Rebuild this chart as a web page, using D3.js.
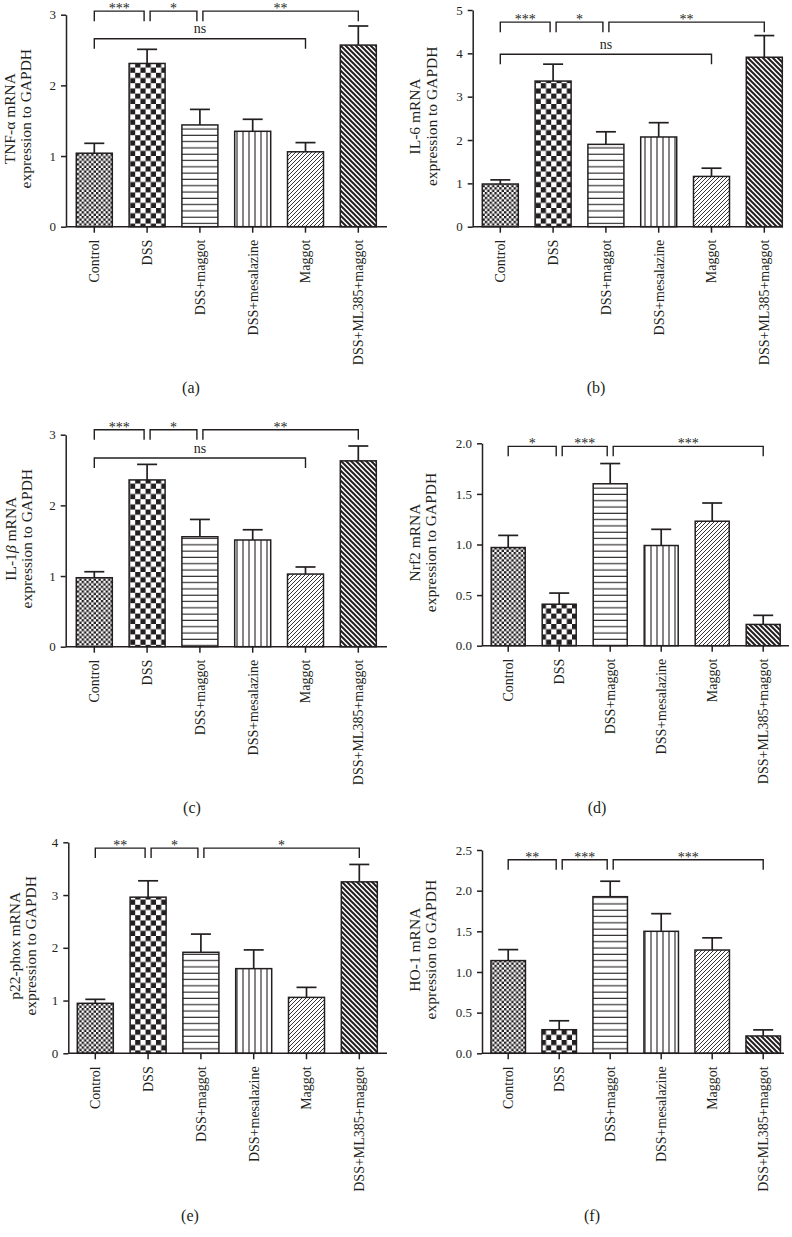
<!DOCTYPE html>
<html>
<head>
<meta charset="utf-8">
<script src="https://cdn.jsdelivr.net/npm/d3@7/dist/d3.min.js"></script>
<style>
  html, body { margin: 0; padding: 0; background: #fff; }
  svg { display: block; }
  text { font-family: "Liberation Serif", "Times New Roman", serif; fill: #231f20; }
</style>
</head>
<body>
<svg id="chart" width="792" height="1237"></svg>
<script>
// ---------------- DATA ----------------
const categories = ["Control", "DSS", "DSS+maggot", "DSS+mesalazine", "Maggot", "DSS+ML385+maggot"];

const tnfMean  = [1.04, 2.31, 1.44, 1.35, 1.06, 2.57];
const tnfErr   = [0.14, 0.20, 0.22, 0.17, 0.13, 0.27];
const il6Mean  = [0.985, 3.36, 1.90, 2.07, 1.16, 3.91];
const il6Err   = [0.095, 0.39, 0.29, 0.33, 0.19, 0.50];
const il1bMean = [0.976, 2.36, 1.556, 1.51, 1.028, 2.63];
const il1bErr  = [0.085, 0.22, 0.245, 0.145, 0.10, 0.21];
const nrf2Mean = [0.97, 0.41, 1.60, 0.99, 1.23, 0.21];
const nrf2Err  = [0.12, 0.11, 0.20, 0.16, 0.18, 0.09];
const p22Mean  = [0.948, 2.96, 1.915, 1.605, 1.06, 3.25];
const p22Err   = [0.075, 0.31, 0.345, 0.355, 0.19, 0.33];
const ho1Mean  = [1.14, 0.29, 1.926, 1.50, 1.27, 0.213];
const ho1Err   = [0.135, 0.11, 0.19, 0.217, 0.15, 0.075];

const ticksTNF  = [0, 1, 2, 3];
const ticksIL6  = [0, 1, 2, 3, 4, 5];
const ticksIL1b = [0, 1, 2, 3];
const ticksNrf2 = [0, 0.5, 1.0, 1.5, 2.0];
const ticksP22  = [0, 1, 2, 3, 4];
const ticksHO1  = [0, 0.5, 1.0, 1.5, 2.0, 2.5];

// significance brackets: [from index, to index, label, level (data units)]
const sigTNF  = [[0, 1, "***", 3.05], [1, 2, "*", 3.05], [2, 5, "**", 3.05], [0, 4, "ns", 2.66]];
const sigIL6  = [[0, 1, "***", 4.72], [1, 2, "*", 4.72], [2, 5, "**", 4.72], [0, 4, "ns", 3.98]];
const sigIL1b = [[0, 1, "***", 3.07], [1, 2, "*", 3.07], [2, 5, "**", 3.07], [0, 4, "ns", 2.67]];
const sigNrf2 = [[0, 1, "*", 1.97], [1, 2, "***", 1.97], [2, 5, "***", 1.97]];
const sigP22  = [[0, 1, "**", 3.89], [1, 2, "*", 3.89], [2, 5, "*", 3.89]];
const sigHO1  = [[0, 1, "**", 2.38], [1, 2, "***", 2.38], [2, 5, "***", 2.38]];

const yLabelsLine1 = [["TNF-α mRNA"], ["IL-6 mRNA"], ["IL-1", "β", " mRNA"], ["Nrf2 mRNA"], ["p22-phox mRNA"], ["HO-1 mRNA"]];
const yLabelLine2 = "expression to GAPDH";
const panelLetters = ["(a)", "(b)", "(c)", "(d)", "(e)", "(f)"];

// ---------------- DRAWING ----------------
const INK = "#231f20";
const svg = d3.select("#chart");
const defs = svg.append("defs");

const FS_X = 14, FS_Y = 15.5, FS_TICK = 13, FS_SIG = 14, FS_LETTER = 16;

// patterns
function pat(id, w, h) {
  return defs.append("pattern").attr("id", id).attr("patternUnits", "userSpaceOnUse")
    .attr("width", w).attr("height", h);
}
{ // fine checker
  const p = pat("p0", 4.8, 4.8);
  p.append("rect").attr("width", 4.8).attr("height", 4.8).attr("fill", "#fff");
  p.append("rect").attr("width", 2.4).attr("height", 2.4).attr("fill", INK);
  p.append("rect").attr("x", 2.4).attr("y", 2.4).attr("width", 2.4).attr("height", 2.4).attr("fill", INK);
}
{ // coarse checker
  const p = pat("p1", 10.4, 10.4);
  p.append("rect").attr("width", 10.4).attr("height", 10.4).attr("fill", "#fff");
  p.append("rect").attr("width", 5.2).attr("height", 5.2).attr("fill", INK);
  p.append("rect").attr("x", 5.2).attr("y", 5.2).attr("width", 5.2).attr("height", 5.2).attr("fill", INK);
}
{ // horizontal lines
  const p = pat("p2", 10, 6.3);
  p.append("rect").attr("width", 10).attr("height", 6.3).attr("fill", "#fff");
  p.append("line").attr("x1", 0).attr("x2", 10).attr("y1", 3).attr("y2", 3).attr("stroke", INK).attr("stroke-width", 1.1);
}
{ // vertical lines
  const p = pat("p3", 6, 10);
  p.append("rect").attr("width", 6).attr("height", 10).attr("fill", "#fff");
  p.append("line").attr("x1", 3).attr("x2", 3).attr("y1", 0).attr("y2", 10).attr("stroke", INK).attr("stroke-width", 1.1);
}
{ // thin "/" hatch
  const p = pat("p4", 4, 4);
  p.append("rect").attr("width", 4).attr("height", 4).attr("fill", "#fff");
  p.append("path").attr("d", "M-1,1 L1,-1 M0,4 L4,0 M3,5 L5,3").attr("stroke", INK).attr("stroke-width", 0.9);
}
{ // thick "\" hatch
  const p = pat("p5", 5, 5);
  p.append("rect").attr("width", 5).attr("height", 5).attr("fill", "#fff");
  p.append("path").attr("d", "M-1,4 L1,6 M0,0 L5,5 M4,-1 L6,1").attr("stroke", INK).attr("stroke-width", 2);
}

const panels = [
  { mean: tnfMean,  err: tnfErr,  ticks: ticksTNF,  fmt: d3.format("d"),   sig: sigTNF,
    L: { ax: 66,    yTop: 14.7,  y0: 226.7,  xEnd: 387, c0: 94.3,  step: 52.8, bw: 36, l1: -56, l2: -40.5, lx: 191, ly: 387 } },
  { mean: il6Mean,  err: il6Err,  ticks: ticksIL6,  fmt: d3.format("d"),   sig: sigIL6,
    L: { ax: 472.7, yTop: 10,    y0: 226.7,  xEnd: 783, c0: 500.3, step: 52.8, bw: 36, l1: -58, l2: -41, lx: 596, ly: 387 } },
  { mean: il1bMean, err: il1bErr, ticks: ticksIL1b, fmt: d3.format("d"),   sig: sigIL1b,
    L: { ax: 65.7,  yTop: 434.7, y0: 646.7,  xEnd: 387, c0: 94.3,  step: 52.8, bw: 36, l1: -55, l2: -39.5, lx: 192, ly: 807 } },
  { mean: nrf2Mean, err: nrf2Err, ticks: ticksNrf2, fmt: d3.format(".1f"), sig: sigNrf2,
    L: { ax: 482,   yTop: 443.3, y0: 645.7,  xEnd: 789, c0: 508.2, step: 51.0, bw: 34, l1: -67, l2: -51, lx: 597, ly: 807 } },
  { mean: p22Mean,  err: p22Err,  ticks: ticksP22,  fmt: d3.format("d"),   sig: sigP22,
    L: { ax: 68.3,  yTop: 842.3, y0: 1053.3, xEnd: 387, c0: 95.3,  step: 52.8, bw: 36, l1: -54, l2: -38, lx: 190, ly: 1215 } },
  { mean: ho1Mean,  err: ho1Err,  ticks: ticksHO1,  fmt: d3.format(".1f"), sig: sigHO1,
    L: { ax: 482,   yTop: 850,   y0: 1053.3, xEnd: 784, c0: 508.2, step: 51.0, bw: 34.5, l1: -67, l2: -51, lx: 592, ly: 1215 } }
];

panels.forEach((P, k) => {
  const L = P.L;
  const g = svg.append("g");
  const ymax = d3.max(P.ticks);
  const y = d3.scaleLinear().domain([0, ymax]).range([L.y0, L.yTop]);
  const pad = 1 - L.bw / L.step;
  const x = d3.scaleBand().domain(categories)
    .range([L.c0 - L.step / 2, L.c0 + 5.5 * L.step])
    .paddingInner(pad).paddingOuter(pad / 2);
  const cx = c => x(c) + x.bandwidth() / 2;

  // bars
  g.selectAll("rect.bar").data(categories).join("rect").attr("class", "bar")
    .attr("x", c => x(c)).attr("width", x.bandwidth())
    .attr("y", (c, i) => y(P.mean[i])).attr("height", (c, i) => L.y0 - y(P.mean[i]))
    .attr("fill", (c, i) => `url(#p${i})`).attr("stroke", INK).attr("stroke-width", 1.5);

  // error bars (upper)
  const eb = g.selectAll("g.eb").data(categories).join("g").attr("class", "eb");
  eb.append("line").attr("x1", cx).attr("x2", cx)
    .attr("y1", (c, i) => y(P.mean[i])).attr("y2", (c, i) => y(P.mean[i] + P.err[i]))
    .attr("stroke", INK).attr("stroke-width", 1.7);
  eb.append("line").attr("x1", c => cx(c) - 10).attr("x2", c => cx(c) + 10)
    .attr("y1", (c, i) => y(P.mean[i] + P.err[i])).attr("y2", (c, i) => y(P.mean[i] + P.err[i]))
    .attr("stroke", INK).attr("stroke-width", 1.7);

  // y axis
  const ya = g.append("g").attr("transform", `translate(${L.ax},0)`)
    .call(d3.axisLeft(y).tickValues(P.ticks).tickFormat(P.fmt).tickSize(5).tickSizeOuter(0).tickPadding(5));
  ya.selectAll("path, line").attr("stroke", INK).attr("stroke-width", 1.5);
  ya.selectAll("text").attr("font-size", FS_TICK).attr("fill", INK);

  // x axis
  g.append("line").attr("x1", L.ax).attr("x2", L.xEnd).attr("y1", L.y0).attr("y2", L.y0)
    .attr("stroke", INK).attr("stroke-width", 1.5);
  const xa = g.append("g").attr("transform", `translate(0,${L.y0})`)
    .call(d3.axisBottom(x).tickSize(6).tickSizeOuter(0).tickFormat(""));
  xa.select("path.domain").remove();
  xa.selectAll("text").remove();
  xa.selectAll("line").attr("stroke", INK).attr("stroke-width", 1.5);
  g.selectAll("text.xl").data(categories).join("text").attr("class", "xl")
    .attr("transform", c => `translate(${cx(c)},${L.y0 + 13}) rotate(-90)`)
    .attr("text-anchor", "end").attr("dy", "0.35em").attr("font-size", FS_X)
    .text(c => c);

  // significance brackets
  P.sig.forEach(([i, j, lab, lvl]) => {
    const yy = y(lvl);
    const sharedStart = P.sig.some(s => s[1] === i && s[3] === lvl);
    const sharedEnd = P.sig.some(s => s[0] === j && s[3] === lvl);
    const x1 = cx(categories[i]) + (sharedStart ? 3 : 0);
    const x2 = cx(categories[j]) - (sharedEnd ? 3 : 0);
    g.append("path").attr("d", `M${x1},${yy + 10}V${yy}H${x2}V${yy + 10}`)
      .attr("fill", "none").attr("stroke", INK).attr("stroke-width", 1.4);
    g.append("text").attr("x", (x1 + x2) / 2).attr("y", lab === "ns" ? yy - 5.5 : yy + 2)
      .attr("text-anchor", "middle").attr("font-size", FS_SIG).text(lab);
  });

  // y label
  const yc = (L.yTop + L.y0) / 2 - 2;
  const t1 = g.append("text").attr("transform", `translate(${L.ax + L.l1},${yc}) rotate(-90)`)
    .attr("text-anchor", "middle").attr("dy", "0.35em").attr("font-size", FS_Y);
  yLabelsLine1[k].forEach(s => {
    const ts = t1.append("tspan").text(s);
    if (s === "β") ts.attr("font-style", "italic");
  });
  g.append("text").attr("transform", `translate(${L.ax + L.l2},${yc}) rotate(-90)`)
    .attr("text-anchor", "middle").attr("dy", "0.35em").attr("font-size", FS_Y).text(yLabelLine2);

  // panel letter
  g.append("text").attr("x", L.lx).attr("y", L.ly).attr("dy", "0.35em")
    .attr("text-anchor", "middle").attr("font-size", FS_LETTER).text(panelLetters[k]);
});
</script>
</body>
</html>
